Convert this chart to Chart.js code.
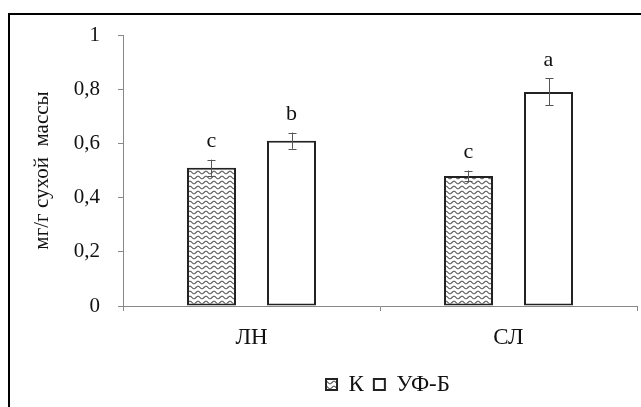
<!DOCTYPE html>
<html><head><meta charset="utf-8">
<script src="https://cdn.jsdelivr.net/npm/chart.js@4/dist/chart.umd.min.js"></script>
<style>html,body{margin:0;padding:0;background:#fff;}#wrap{position:relative;width:641px;height:407px;}</style>
</head><body><div id="wrap"><canvas id="c" width="641" height="407"></canvas></div>
<script>
const categories = ['ЛН', 'СЛ'];
const seriesNames = ['К', 'УФ-Б'];
const valuesK = [0.51, 0.48];
const valuesUV = [0.61, 0.79];
const errorsK = [0.03, 0.02];
const errorsUV = [0.03, 0.05];
const lettersK = ['c', 'c'];
const lettersUV = ['b', 'a'];
const yTicks = [0, 0.2, 0.4, 0.6, 0.8, 1];
const yTitle = 'мг/г сухой  массы';

const FONT = '"Liberation Serif", "Times New Roman", serif';
const canvas = document.getElementById('c');
const ctx = canvas.getContext('2d');

function makePattern() {
  const c = document.createElement('canvas');
  c.width = 8; c.height = 5;
  const x = c.getContext('2d');
  x.fillStyle = '#fff'; x.fillRect(0, 0, 8, 5);
  x.strokeStyle = '#555'; x.lineWidth = 1.1;
  x.beginPath();
  for (let i = 0; i <= 8; i += 0.5) {
    const y = 2.5 + 1.3 * Math.sin(i / 8 * 2 * Math.PI);
    if (i === 0) x.moveTo(i, y); else x.lineTo(i, y);
  }
  x.stroke();
  return ctx.createPattern(c, 'repeat');
}
const wave = makePattern();

const errorsByDataset = [errorsK, errorsUV];
const lettersByDataset = [lettersK, lettersUV];

const framePlugin = {
  id: 'frame',
  afterLayout(chart) {
    if (chart.legend) { chart.legend.left += 8; chart.legend.right += 8; }
  },
  beforeDraw(chart) {
    const c = chart.ctx;
    c.save();
    c.fillStyle = '#fff';
    c.fillRect(0, 0, chart.width, chart.height);
    c.strokeStyle = '#000';
    c.lineWidth = 2;
    c.beginPath();
    c.moveTo(9, chart.height + 2);
    c.lineTo(9, 14);
    c.lineTo(chart.width + 2, 14);
    c.stroke();
    c.restore();
  }
};

const errPlugin = {
  id: 'errs',
  afterDatasetsDraw(chart) {
    const c = chart.ctx;
    const ys = chart.scales.y;
    c.save();
    chart.data.datasets.forEach((ds, di) => {
      const meta = chart.getDatasetMeta(di);
      meta.data.forEach((bar, i) => {
        const v = ds.data[i];
        const e = errorsByDataset[di][i];
        const x = Math.round(bar.x) + 0.5;
        const yt = ys.getPixelForValue(v + e);
        const yb = ys.getPixelForValue(v - e);
        c.strokeStyle = '#555';
        c.lineWidth = 1;
        c.beginPath();
        c.moveTo(x, yt); c.lineTo(x, yb);
        c.moveTo(x - 4, Math.round(yt) + 0.5); c.lineTo(x + 4, Math.round(yt) + 0.5);
        c.moveTo(x - 4, Math.round(yb) + 0.5); c.lineTo(x + 4, Math.round(yb) + 0.5);
        c.stroke();
        c.fillStyle = '#111';
        c.font = '22px ' + FONT;
        c.textAlign = 'center';
        c.textBaseline = 'bottom';
        c.fillText(lettersByDataset[di][i], bar.x, yt - 7);
      });
    });
    c.restore();
  }
};

new Chart(ctx, {
  type: 'bar',
  data: {
    labels: categories,
    datasets: [
      { label: seriesNames[0], data: valuesK, backgroundColor: wave, borderColor: '#222', borderWidth: 2, borderSkipped: false },
      { label: seriesNames[1], data: valuesUV, backgroundColor: '#fff', borderColor: '#222', borderWidth: 2, borderSkipped: false }
    ]
  },
  options: {
    responsive: false,
    devicePixelRatio: 1,
    animation: false,
    categoryPercentage: 0.6226,
    barPercentage: 0.6125,
    layout: { padding: { top: 35, right: 4, bottom: 1, left: 0 } },
    plugins: {
      tooltip: { enabled: false },
      legend: {
        position: 'bottom',
        fullSize: false,
        labels: {
          boxWidth: 11, boxHeight: 11, padding: 10,
          color: '#111',
          font: { family: FONT, size: 23 },
          useBorderRadius: false
        }
      }
    },
    scales: {
      x: {
        offset: true,
        grid: { display: true, offset: true, drawOnChartArea: false, color: '#888', tickLength: 5 },
        border: { display: true, color: '#888', width: 1 },
        ticks: { color: '#111', font: { family: FONT, size: 23 }, padding: 13, maxRotation: 0 },
        afterFit(s) { s.height = 57; }
      },
      y: {
        min: 0, max: 1,
        afterBuildTicks(s) { s.ticks = yTicks.map(v => ({ value: v })); },
        grid: { display: true, drawOnChartArea: false, color: '#888', tickLength: 5 },
        border: { display: true, color: '#888', width: 1 },
        ticks: { color: '#111', font: { family: FONT, size: 21 }, padding: 18,
          callback: v => String(v).replace('.', ',') },
        title: { display: true, text: yTitle, color: '#111', font: { family: FONT, size: 21 }, padding: { top: 30, bottom: 0 } },
        afterFit(s) { s.width = 123; }
      }
    }
  },
  plugins: [framePlugin, errPlugin]
});
</script>
</body></html>
